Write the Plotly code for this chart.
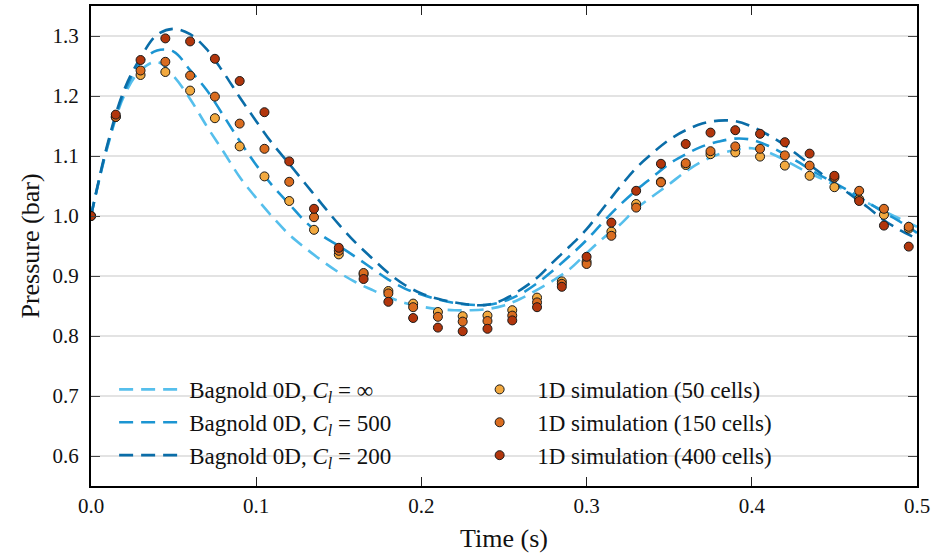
import plotly.graph_objects as go

# Model curves (Bagnold 0D), sampled every 0.01 s
t_model = [round(0.01 * i, 2) for i in range(51)]
p_inf = [1.000, 1.115, 1.200, 1.243, 1.257, 1.233, 1.195, 1.150, 1.108, 1.065,
         1.030, 0.998, 0.969, 0.946, 0.925, 0.906, 0.890, 0.877, 0.865, 0.855,
         0.849, 0.845, 0.843, 0.843, 0.845, 0.851, 0.862, 0.877, 0.893, 0.912,
         0.938, 0.963, 0.985, 1.012, 1.033, 1.053, 1.074, 1.091, 1.103, 1.110,
         1.113, 1.106, 1.093, 1.078, 1.065, 1.052, 1.037, 1.022, 1.008, 0.995, 0.982]
p_500 = [1.000, 1.117, 1.205, 1.255, 1.276, 1.274, 1.243, 1.210, 1.168, 1.125,
         1.085, 1.050, 1.020, 0.990, 0.967, 0.950, 0.932, 0.913, 0.894, 0.879,
         0.869, 0.861, 0.855, 0.852, 0.852, 0.858, 0.870, 0.888, 0.910, 0.934,
         0.960, 0.990, 1.018, 1.043, 1.065, 1.087, 1.103, 1.116, 1.124, 1.129,
         1.127, 1.117, 1.103, 1.087, 1.070, 1.055, 1.040, 1.023, 1.006, 0.990, 0.972]
p_200 = [1.000, 1.120, 1.210, 1.264, 1.302, 1.312, 1.303, 1.278, 1.240, 1.198,
         1.158, 1.120, 1.087, 1.053, 1.019, 0.986, 0.956, 0.930, 0.905, 0.885,
         0.871, 0.862, 0.856, 0.852, 0.852, 0.861, 0.877, 0.897, 0.924, 0.950,
         0.978, 1.013, 1.048, 1.080, 1.105, 1.127, 1.143, 1.154, 1.159, 1.158,
         1.149, 1.135, 1.118, 1.097, 1.075, 1.055, 1.035, 1.015, 0.993, 0.976, 0.962]

# 1D simulation samples, every 0.015 s
t_sim = [round(0.015 * i, 3) for i in range(34)]
sim_50 = [1.000, 1.165, 1.235, 1.240, 1.209, 1.163, 1.116, 1.066, 1.025, 0.977,
          0.936, 0.903, 0.875, 0.854, 0.840, 0.833, 0.834, 0.843, 0.864, 0.891,
          0.924, 0.974, 1.020, 1.057, 1.085, 1.103, 1.106, 1.099, 1.084, 1.067,
          1.048, 1.028, 1.002, 0.979]
sim_150 = [1.000, 1.165, 1.2425, 1.257, 1.234, 1.199, 1.154, 1.112, 1.057, 0.998,
           0.942, 0.905, 0.871, 0.848, 0.832, 0.824, 0.825, 0.834, 0.856, 0.887,
           0.920, 0.967, 1.014, 1.056, 1.088, 1.108, 1.116, 1.112, 1.101, 1.084,
           1.064, 1.042, 1.012, 0.982]
sim_400 = [1.000, 1.169, 1.260, 1.296, 1.291, 1.262, 1.225, 1.173, 1.091, 1.012,
           0.947, 0.895, 0.857, 0.830, 0.814, 0.808, 0.812, 0.826, 0.848, 0.882,
           0.932, 0.989, 1.042, 1.087, 1.120, 1.139, 1.143, 1.137, 1.123, 1.104,
           1.067, 1.025, 0.984, 0.949]

x_ticks = [0.0, 0.1, 0.2, 0.3, 0.4, 0.5]
y_ticks = [0.6, 0.7, 0.8, 0.9, 1.0, 1.1, 1.2, 1.3]

line_names = ["Bagnold 0D, <i>C</i><sub><i>l</i></sub> = ∞",
              "Bagnold 0D, <i>C</i><sub><i>l</i></sub> = 500",
              "Bagnold 0D, <i>C</i><sub><i>l</i></sub> = 200"]
line_colors = ["#56BFEC", "#1C95D2", "#0A6DA8"]
sim_names = ["1D simulation (50 cells)", "1D simulation (150 cells)",
             "1D simulation (400 cells)"]
sim_colors = ["#F2A93F", "#DA6C1F", "#B2360C"]

FONT = "Liberation Serif"

fig = go.Figure()
for i, (ys, name, col) in enumerate(zip([p_inf, p_500, p_200], line_names, line_colors)):
    fig.add_trace(go.Scatter(
        x=t_model, y=ys, mode="lines", name=name, line_shape="spline",
        line=dict(color=col, width=2.6, dash="14px,8px"),
        legendrank=2 * i + 1))
for i, (ys, name, col) in enumerate(zip([sim_50, sim_150, sim_400], sim_names, sim_colors)):
    fig.add_trace(go.Scatter(
        x=t_sim, y=ys, mode="markers", name=name,
        marker=dict(color=col, size=9, line=dict(color="#1a1a1a", width=1)),
        legendrank=2 * i + 2))

fig.update_layout(
    width=935, height=559,
    margin=dict(l=91, r=18, t=4, b=73),
    paper_bgcolor="white", plot_bgcolor="white",
    font=dict(family=FONT, size=20, color="#111"),
    showlegend=True,
    legend=dict(
        orientation="h", x=0.028, y=0.246, xanchor="left", yanchor="top",
        bgcolor="rgba(0,0,0,0)", font=dict(family=FONT, size=23),
        entrywidth=268, itemwidth=65, tracegroupgap=0,
    ),
)
fig.update_xaxes(
    range=[0, 0.5], tickvals=x_ticks, tickformat=".1f",
    showgrid=False, zeroline=False,
    showline=True, linecolor="black", linewidth=2, mirror="ticks",
    ticks="inside", ticklen=9, tickwidth=1.2, tickcolor="#222",
    title=dict(text="Time (s)", font=dict(family=FONT, size=26), standoff=12),
    tickfont=dict(family=FONT, size=21),
)
fig.update_yaxes(
    range=[0.55, 1.35], tickvals=y_ticks, tickformat=".1f",
    showgrid=True, gridcolor="#e3e3e3", gridwidth=2, zeroline=False,
    showline=True, linecolor="black", linewidth=2, mirror="ticks",
    ticks="inside", ticklen=9, tickwidth=1.2, tickcolor="#444",
    ticklabelstandoff=6,
    title=dict(text="Pressure (bar)", font=dict(family=FONT, size=26), standoff=5),
    tickfont=dict(family=FONT, size=21),
)

fig.write_html("out.html", config={"displayModeBar": False},
               post_script="document.body.style.margin='0';")
